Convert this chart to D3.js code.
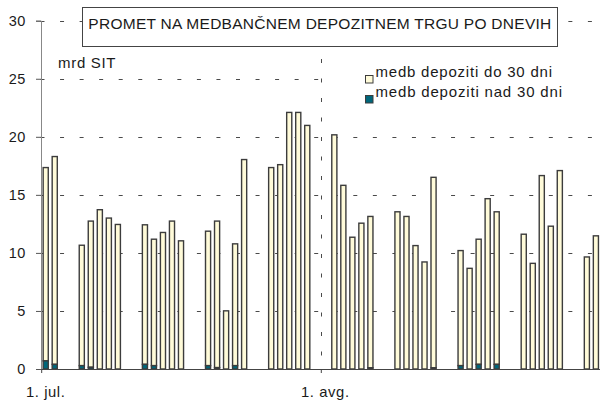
<!DOCTYPE html>
<html>
<head>
<meta charset="utf-8">
<script src="https://cdn.jsdelivr.net/npm/d3@7"></script>
<style>
body { margin: 0; background: #fff; }
text { font-family: "Liberation Sans", Arial, sans-serif; fill: #1a1a1a; }
</style>
</head>
<body>
<div id="area_1"></div>
<script>
// trading days, july - august
var days = ["1999-07-01","1999-07-02",
  "1999-07-05","1999-07-06","1999-07-07","1999-07-08","1999-07-09",
  "1999-07-12","1999-07-13","1999-07-14","1999-07-15","1999-07-16",
  "1999-07-19","1999-07-20","1999-07-21","1999-07-22","1999-07-23",
  "1999-07-26","1999-07-27","1999-07-28","1999-07-29","1999-07-30",
  "1999-08-02","1999-08-03","1999-08-04","1999-08-05","1999-08-06",
  "1999-08-09","1999-08-10","1999-08-11","1999-08-12","1999-08-13",
  "1999-08-16","1999-08-17","1999-08-18","1999-08-19","1999-08-20",
  "1999-08-23","1999-08-24","1999-08-25","1999-08-26","1999-08-27",
  "1999-08-30","1999-08-31"]

var do30 = [16.65, 17.9,
  10.37, 12.59, 13.72, 13.0, 12.45,
  12.02, 10.89, 11.76, 12.74, 11.04,
  11.58, 12.62, 5.01, 10.49, 18.04,
  17.35, 17.6, 22.1, 22.1, 20.98,
  20.17, 15.82, 11.35, 12.56, 13.04,
  13.54, 13.14, 10.63, 9.22, 16.41,
  9.91, 8.67, 10.78, 14.67, 13.14,
  11.61, 9.1, 16.66, 12.3, 17.09,
  9.65, 11.47]

var nad30 = [0.7, 0.4,
  0.29, 0.15, 0, 0, 0,
  0.4, 0.29, 0, 0, 0,
  0.29, 0.12, 0, 0.29, 0,
  0, 0, 0, 0, 0,
  0, 0, 0, 0, 0.1,
  0, 0, 0, 0, 0.1,
  0.29, 0, 0.4, 0, 0.4,
  0, 0, 0, 0, 0,
  0, 0]

var yTicks = [0, 5, 10, 15, 20, 25, 30]
var monthDays = ["1999-07-01", "1999-08-01"]
var monthLabels = ["1. jul.", "1. avg."]
var title = "PROMET NA MEDBANČNEM DEPOZITNEM TRGU PO DNEVIH"
var unitLabel = "mrd SIT"
var seriesNames = ["medb depoziti do 30 dni", "medb depoziti nad 30 dni"]
var seriesColors = ["#fffbd9", "#00667a"]

var parse = d3.timeParse("%Y-%m-%d")

var rows = days.map(function(d, i) {
  return { date: parse(d), nad: nad30[i], doo: do30[i] }
})

var svg = d3.select("#area_1")
  .append("svg")
    .attr("width", 600)
    .attr("height", 400)

var x = d3.scaleTime()
  .domain([parse("1999-07-01"), parse("1999-09-01")])
  .range([41.2, 600.4])
var y = d3.scaleLinear().domain([0, 30]).range([369, 20.7])

var dayW = x(parse("1999-07-02")) - x(parse("1999-07-01"))
var barW = 5.1

// horizontal grid
svg.append("g")
  .selectAll("line")
  .data(yTicks.slice(1))
  .enter()
  .append("line")
    .attr("x1", 40.5)
    .attr("x2", 600)
    .attr("y1", function(d) { return Math.round(y(d)) + 0.5 })
    .attr("y2", function(d) { return Math.round(y(d)) + 0.5 })
    .style("stroke", "#4a4a4a")
    .style("stroke-dasharray", "4 15.55")

// month separator
svg.append("g")
  .selectAll("line")
  .data(monthDays.slice(1))
  .enter()
  .append("line")
    .attr("x1", function(d) { return Math.round(x(parse(d))) + 0.5 })
    .attr("x2", function(d) { return Math.round(x(parse(d))) + 0.5 })
    .attr("y1", 20)
    .attr("y2", 369)
    .style("stroke", "#4a4a4a")
    .style("stroke-dasharray", "4 15.5")

// stacked bars
var bars = svg.append("g")
  .selectAll("g")
  .data(rows)
  .enter()
  .append("g")

bars.append("rect")
    .attr("x", function(d) { return x(d.date) + (dayW - barW) / 2 })
    .attr("width", barW)
    .attr("y", function(d) { return y(d.nad + d.doo) })
    .attr("height", function(d) { return y(d.nad) - y(d.nad + d.doo) })
    .style("fill", seriesColors[0])
    .style("stroke", "#3c3c3c")
    .style("stroke-width", 1.4)

bars.filter(function(d) { return d.nad > 0 })
  .append("rect")
    .attr("x", function(d) { return x(d.date) + (dayW - barW) / 2 })
    .attr("width", barW)
    .attr("y", function(d) { return y(d.nad) })
    .attr("height", function(d) { return y(0) - y(d.nad) })
    .style("fill", seriesColors[1])
    .style("stroke", "#3c3c3c")
    .style("stroke-width", 1.4)

// y axis
var yAxis = svg.append("g")
  .attr("transform", "translate(41,0)")
  .call(d3.axisLeft(y).tickValues(yTicks).tickSize(5).tickPadding(10))
yAxis.select(".domain").style("stroke", "#888")
yAxis.selectAll(".tick line").style("stroke", "#555")
yAxis.selectAll("text")
  .attr("font-size", "14.5px")
  .style("font-family", "'Liberation Sans', Arial, sans-serif")
  .style("letter-spacing", "0.6px")
  .style("fill", "#1a1a1a")

// x axis
var xAxis = svg.append("g")
  .attr("transform", "translate(0,369)")
  .call(d3.axisBottom(x)
    .tickValues(monthDays.map(parse))
    .tickSize(4)
    .tickSizeOuter(0)
    .tickFormat(""))
xAxis.select(".domain").style("stroke", "#444")
xAxis.selectAll(".tick line").style("stroke", "#444")

svg.append("g")
  .selectAll("text")
  .data(monthDays)
  .enter()
  .append("text")
    .attr("x", function(d) { return x(parse(d)) + dayW / 2 })
    .attr("y", 397)
    .attr("text-anchor", "middle")
    .attr("font-size", "14.8px")
    .style("letter-spacing", "0.6px")
    .text(function(d, i) { return monthLabels[i] })

// unit
svg.append("text")
  .attr("x", 58)
  .attr("y", 68.3)
  .attr("font-size", "15px")
  .style("letter-spacing", "0.7px")
  .text(unitLabel)

// title box
svg.append("rect")
  .attr("x", 82.5)
  .attr("y", 7.5)
  .attr("width", 475)
  .attr("height", 39)
  .style("fill", "#fff")
  .style("stroke", "#444")
  .style("stroke-width", 1)

svg.append("text")
  .attr("x", 88.3)
  .attr("y", 28.8)
  .attr("font-size", "15.5px")
  .attr("textLength", 463)
  .attr("lengthAdjust", "spacing")
  .text(title)

// legend
var legend = svg.append("g")
legend.append("rect")
  .attr("x", 328)
  .attr("y", 56)
  .attr("width", 272)
  .attr("height", 52)
  .style("fill", "#fff")

var legendRows = legend.selectAll("g.item")
  .data(seriesNames)
  .enter()
  .append("g")
    .attr("class", "item")
    .attr("transform", function(d, i) { return "translate(365," + (75 + i * 20) + ")" })

legendRows.append("rect")
  .attr("x", 0.5)
  .attr("y", 0.5)
  .attr("width", 7.5)
  .attr("height", 7.5)
  .style("fill", function(d, i) { return seriesColors[i] })
  .style("stroke", "#3c3c3c")
  .style("stroke-width", 1)

legendRows.append("text")
  .attr("x", 10.5)
  .attr("y", 2)
  .attr("font-size", "15px")
  .attr("textLength", function(d, i) { return i == 0 ? 176.5 : 186.5 })
  .attr("lengthAdjust", "spacing")
  .text(function(d) { return d })
</script>
</body>
</html>
